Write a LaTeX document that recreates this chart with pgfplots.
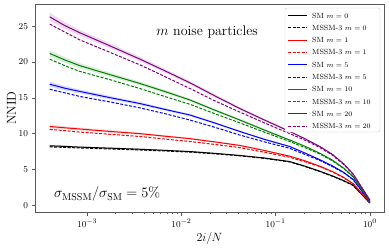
\documentclass[border=0pt]{standalone}
\usepackage{pgfplots}
\usepackage{pgfplotstable}
\pgfplotsset{compat=1.18}
\definecolor{mplgreen}{HTML}{008000}
\definecolor{mplpurple}{HTML}{800080}
\tikzset{msline/.style={dash pattern=on 3pt off 1.5pt}}
\pgfplotstableread{
x        k     kd    r     rd    b     bd    g     gd    p     pd
4.0e-4   8.30  8.15  11.0  10.6  16.9  16.2  21.2  20.4  26.3  25.3
5.75e-4  8.22  8.08  10.82 10.42 16.35 15.7  20.3  19.5  25.1  24.2
8.3e-4   8.12  8.0   10.65 10.22 15.9  15.2  19.5  18.7  24.1  23.1
1.78e-3  7.97  7.86  10.3  9.9   15.0  14.4  18.2  17.5  22.2  21.3
3.63e-3  7.82  7.72  10.0  9.6   14.2  13.6  17.0  16.3  20.4  19.6
6.6e-3   7.67  7.58  9.65  9.25  13.4  12.8  15.9  15.2  18.8  18.0
1.23e-2  7.5   7.42  9.3   8.9   12.6  11.9  14.7  14.1  17.1  16.3
2.24e-2  7.25  7.19  8.85  8.5   11.5  10.9  13.3  12.8  15.3  14.6
4.17e-2  6.95  6.9   8.35  8.05  10.3  9.8   11.9  11.5  13.5  13.0
7.6e-2   6.6   6.55  7.65  7.4   9.2   8.85  10.5  10.2  11.9  11.5
0.141    6.1   6.05  6.85  6.7   8.2   7.95  9.1   8.9   10.3  10.0
0.2      5.5   5.45  6.25  6.1   7.35  7.15  8.3   8.1   9.35  9.15
0.295    4.75  4.7   5.45  5.4   6.35  6.25  7.25  7.15  8.2   8.05
0.4      4.1   4.05  4.7   4.65  5.5   5.4   6.3   6.2   7.1   7.0
0.525    3.45  3.4   3.9   3.85  4.6   4.55  5.2   5.15  5.8   5.7
0.665    2.8   2.75  3.0   3.0   3.6   3.55  4.0   3.95  4.35  4.3
1.0      0.3   0.3   0.4   0.4   0.5   0.5   0.55  0.55  0.7   0.7
}\curves
\begin{document}
\begin{tikzpicture}
\begin{axis}[
  xmode=log,
  scale only axis,
  width=349pt, height=208pt,
  xmin=2.79e-4, xmax=1.41,
  ymin=-0.94, ymax=28.1,
  ytick={0,5,10,15,20,25},
  xtick={1e-3,1e-2,1e-1,1},
  tick align=outside,
  tick pos=left,
  major tick length=3.5pt,
  minor tick length=2pt,
  axis line style={black!65, line width=0.8pt},
  major tick style={black!65, line width=0.6pt},
  minor tick style={black!65, line width=0.5pt},
  tick label style={font=\fontsize{9.5}{11}\selectfont},
  xlabel={$2i/N$},
  ylabel={NNID},
  label style={font=\fontsize{13}{15}\selectfont},
  xlabel style={yshift=2pt},
  ylabel style={yshift=-4pt},
]
% uncertainty bands (upper edge forward, lower edge back)
\addplot[fill=black, fill opacity=0.15, draw=none, forget plot] coordinates {
 (4.0e-4,8.45) (5.75e-4,8.36) (8.3e-4,8.24) (1.78e-3,8.08) (3.63e-3,7.92) (6.6e-3,7.76) (1.23e-2,7.58) (2.24e-2,7.33) (4.17e-2,7.02) (7.6e-2,6.67) (0.141,6.16)
 (0.141,6.04) (7.6e-2,6.53) (4.17e-2,6.88) (2.24e-2,7.17) (1.23e-2,7.42) (6.6e-3,7.58) (3.63e-3,7.72) (1.78e-3,7.86) (8.3e-4,8.00) (5.75e-4,8.08) (4.0e-4,8.15)};
\addplot[fill=red, fill opacity=0.15, draw=none, forget plot] coordinates {
 (4.0e-4,11.25) (5.75e-4,11.04) (8.3e-4,10.85) (1.78e-3,10.48) (3.63e-3,10.16) (6.6e-3,9.79) (1.23e-2,9.42) (2.24e-2,8.96) (4.17e-2,8.45) (7.6e-2,7.74) (0.141,6.93)
 (0.141,6.77) (7.6e-2,7.56) (4.17e-2,8.25) (2.24e-2,8.74) (1.23e-2,9.18) (6.6e-3,9.51) (3.63e-3,9.84) (1.78e-3,10.12) (8.3e-4,10.45) (5.75e-4,10.60) (4.0e-4,10.75)};
\addplot[fill=blue, fill opacity=0.15, draw=none, forget plot] coordinates {
 (4.0e-4,17.25) (5.75e-4,16.66) (8.3e-4,16.17) (1.78e-3,15.24) (3.63e-3,14.41) (6.6e-3,13.58) (1.23e-2,12.76) (2.24e-2,11.64) (4.17e-2,10.42) (7.6e-2,9.31) (0.141,8.30)
 (0.141,8.10) (7.6e-2,9.09) (4.17e-2,10.18) (2.24e-2,11.36) (1.23e-2,12.44) (6.6e-3,13.22) (3.63e-3,13.99) (1.78e-3,14.76) (8.3e-4,15.63) (5.75e-4,16.04) (4.0e-4,16.55)};
\addplot[fill=mplgreen, fill opacity=0.15, draw=none, forget plot] coordinates {
 (4.0e-4,21.65) (5.75e-4,20.70) (8.3e-4,19.84) (1.78e-3,18.50) (3.63e-3,17.26) (6.6e-3,16.13) (1.23e-2,14.90) (2.24e-2,13.48) (4.17e-2,12.05) (7.6e-2,10.63) (0.141,9.22)
 (0.141,8.98) (7.6e-2,10.37) (4.17e-2,11.75) (2.24e-2,13.12) (1.23e-2,14.50) (6.6e-3,15.67) (3.63e-3,16.74) (1.78e-3,17.90) (8.3e-4,19.16) (5.75e-4,19.90) (4.0e-4,20.75)};
\addplot[fill=mplpurple, fill opacity=0.15, draw=none, forget plot] coordinates {
 (4.0e-4,26.85) (5.75e-4,25.58) (8.3e-4,24.50) (1.78e-3,22.55) (3.63e-3,20.70) (6.6e-3,19.07) (1.23e-2,17.34) (2.24e-2,15.51) (4.17e-2,13.68) (7.6e-2,12.06) (0.141,10.44)
 (0.141,10.16) (7.6e-2,11.74) (4.17e-2,13.32) (2.24e-2,15.09) (1.23e-2,16.86) (6.6e-3,18.53) (3.63e-3,20.10) (1.78e-3,21.85) (8.3e-4,23.70) (5.75e-4,24.62) (4.0e-4,25.75)};
% lines
\addplot[color=black, line width=1pt, no marks] table[x=x, y=k] {\curves};
\addplot[color=black, line width=1pt, no marks, msline] table[x=x, y=kd] {\curves};
\addplot[color=red, line width=1pt, no marks] table[x=x, y=r] {\curves};
\addplot[color=red, line width=1pt, no marks, msline] table[x=x, y=rd] {\curves};
\addplot[color=blue, line width=1pt, no marks] table[x=x, y=b] {\curves};
\addplot[color=blue, line width=1pt, no marks, msline] table[x=x, y=bd] {\curves};
\addplot[color=mplgreen, line width=1pt, no marks] table[x=x, y=g] {\curves};
\addplot[color=mplgreen, line width=1pt, no marks, msline] table[x=x, y=gd] {\curves};
\addplot[color=mplpurple, line width=1pt, no marks] table[x=x, y=p] {\curves};
\addplot[color=mplpurple, line width=1pt, no marks, msline] table[x=x, y=pd] {\curves};
\node[font=\fontsize{14}{16}\selectfont] at (rel axis cs:0.493,0.865) {$m$ noise particles};
\node[font=\fontsize{14}{16}\selectfont, anchor=west] at (rel axis cs:0.045,0.085) {$\sigma_{\mathrm{MSSM}}/\sigma_{\mathrm{SM}}=5\%$};
\end{axis}
% legend box and sample lines (all strokes first, text afterwards)
\path (current axis.north east) ++(-99pt,-4pt) coordinate (LG);
\draw[draw=black!20, fill=white, rounded corners=2pt] (LG) rectangle ++(95pt,-124pt);
\draw[draw=black, line width=1pt] ([xshift=3pt, yshift=-7.5pt]LG) -- ++(19pt,0pt);
\draw[draw=black, line width=1pt, msline] ([xshift=3pt, yshift=-19.8pt]LG) -- ++(19pt,0pt);
\draw[draw=red, line width=1pt] ([xshift=3pt, yshift=-32.1pt]LG) -- ++(19pt,0pt);
\draw[draw=red, line width=1pt, msline] ([xshift=3pt, yshift=-44.4pt]LG) -- ++(19pt,0pt);
\draw[draw=blue, line width=1pt] ([xshift=3pt, yshift=-56.7pt]LG) -- ++(19pt,0pt);
\draw[draw=blue, line width=1pt, msline] ([xshift=3pt, yshift=-69.0pt]LG) -- ++(19pt,0pt);
\draw[draw=mplgreen, line width=1pt] ([xshift=3pt, yshift=-81.3pt]LG) -- ++(19pt,0pt);
\draw[draw=mplgreen, line width=1pt, msline] ([xshift=3pt, yshift=-93.6pt]LG) -- ++(19pt,0pt);
\draw[draw=mplpurple, line width=1pt] ([xshift=3pt, yshift=-105.9pt]LG) -- ++(19pt,0pt);
\draw[draw=mplpurple, line width=1pt, msline] ([xshift=3pt, yshift=-118.2pt]LG) -- ++(19pt,0pt);
\begin{scope}[every node/.style={anchor=west, font=\fontsize{7.5}{8}\selectfont, inner sep=0pt}]
\node at ([xshift=27pt, yshift=-7.5pt]LG) {SM $m=0$};
\node at ([xshift=27pt, yshift=-19.8pt]LG) {MSSM-3 $m=0$};
\node at ([xshift=27pt, yshift=-32.1pt]LG) {SM $m=1$};
\node at ([xshift=27pt, yshift=-44.4pt]LG) {MSSM-3 $m=1$};
\node at ([xshift=27pt, yshift=-56.7pt]LG) {SM $m=5$};
\node at ([xshift=27pt, yshift=-69.0pt]LG) {MSSM-3 $m=5$};
\node at ([xshift=27pt, yshift=-81.3pt]LG) {SM $m=10$};
\node at ([xshift=27pt, yshift=-93.6pt]LG) {MSSM-3 $m=10$};
\node at ([xshift=27pt, yshift=-105.9pt]LG) {SM $m=20$};
\node at ([xshift=27pt, yshift=-118.2pt]LG) {MSSM-3 $m=20$};
\end{scope}
\path (current axis.south west) ++(-35pt,-37pt) coordinate (bbA);
\path (current axis.north east) ++(5pt,4pt) coordinate (bbB);
\pgfresetboundingbox
\path[use as bounding box] (bbA) rectangle (bbB);
\end{tikzpicture}
\end{document}
